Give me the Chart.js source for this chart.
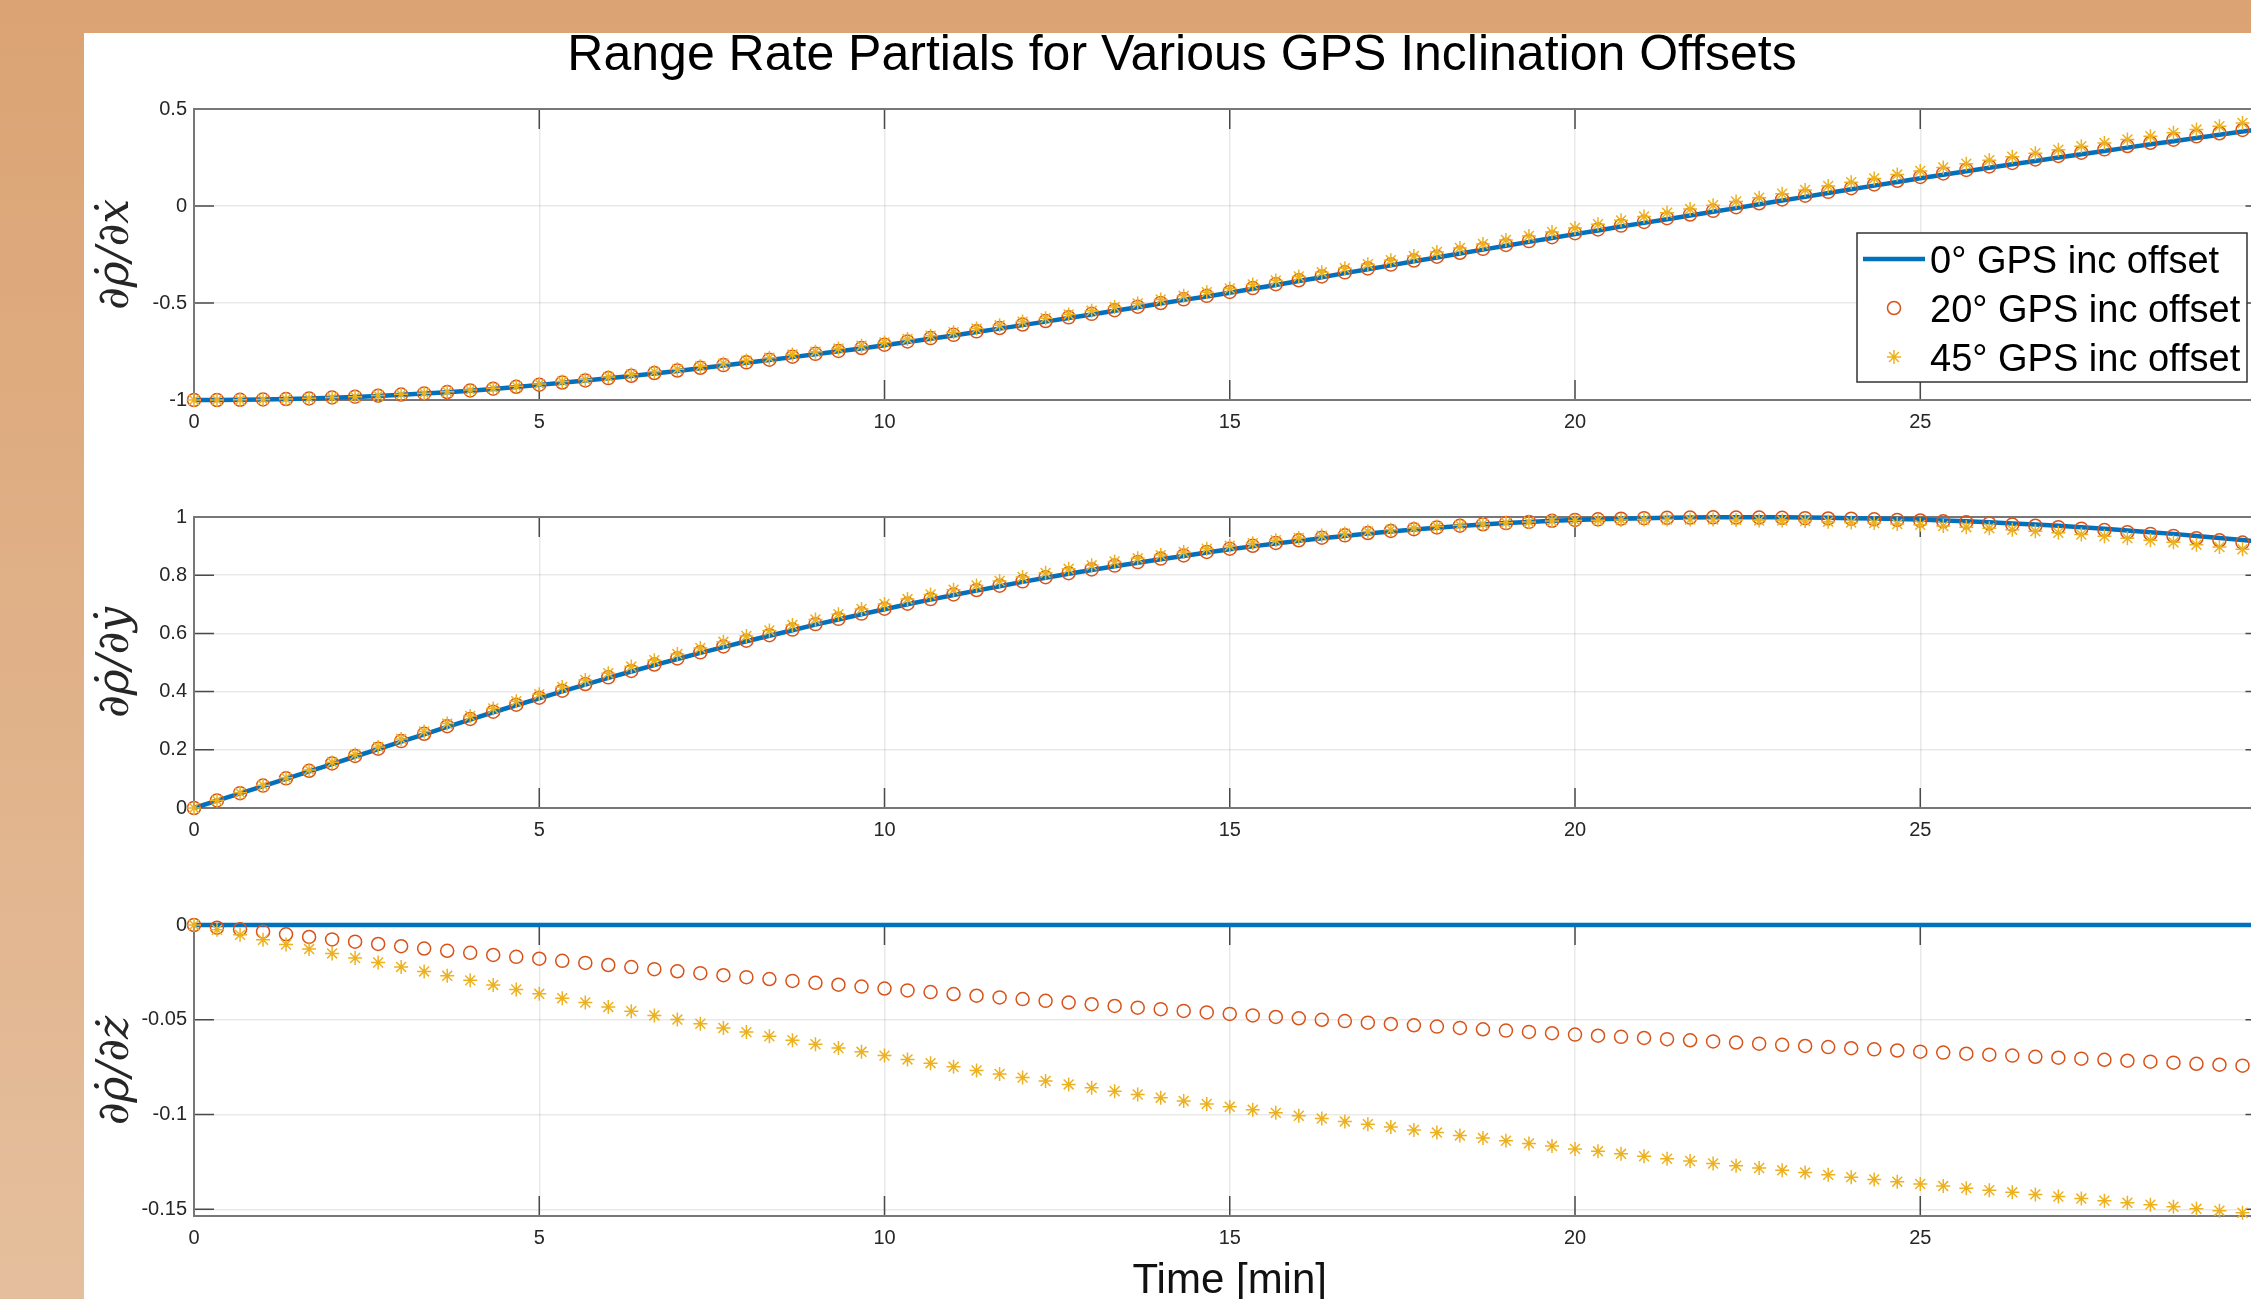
<!DOCTYPE html>
<html>
<head>
<meta charset="utf-8">
<title>Range Rate Partials</title>
<script src="https://cdn.jsdelivr.net/npm/chart.js@4.4.0/dist/chart.umd.min.js"></script>
<style>
    html, body { margin: 0; padding: 0; }
    body {
        width: 2251px;
        height: 1299px;
        overflow: hidden;
        position: relative;
        background: linear-gradient(to bottom, #dba373 0%, #e0b188 50%, #e5bf9d 100%);
    }
    #panel { position: absolute; left: 84px; top: 33px; right: 0; bottom: 0; background: #fff; }
    #title {
        position: absolute; left: 1182px; top: 28px; transform: translateX(-50%);
        font: 50px/50px "Liberation Sans", Arial, sans-serif; color: #000; white-space: nowrap;
    }
    canvas { position: absolute; left: 84px; }
    #c1 { top: 90px; }
    #c2 { top: 498px; }
    #c3 { top: 906px; }
</style>
</head>
<body>
<div id="panel"></div>
<div id="title">Range Rate Partials for Various GPS Inclination Offsets</div>
<canvas id="c1" width="2300" height="360"></canvas>
<canvas id="c2" width="2300" height="360"></canvas>
<canvas id="c3" width="2300" height="401"></canvas>

<script>
// ========================================
// DATA (one sample every 20 s)
// ========================================

const seriesNames = ['0° GPS inc offset', '20° GPS inc offset', '45° GPS inc offset'];

const timeMin = [
    0, 0.333, 0.667, 1, 1.333, 1.667, 2, 2.333, 2.667, 3, 3.333, 3.667, 4, 4.333, 4.667,
    5, 5.333, 5.667, 6, 6.333, 6.667, 7, 7.333, 7.667, 8, 8.333, 8.667, 9, 9.333, 9.667,
    10, 10.333, 10.667, 11, 11.333, 11.667, 12, 12.333, 12.667, 13, 13.333, 13.667, 14, 14.333, 14.667,
    15, 15.333, 15.667, 16, 16.333, 16.667, 17, 17.333, 17.667, 18, 18.333, 18.667, 19, 19.333, 19.667,
    20, 20.333, 20.667, 21, 21.333, 21.667, 22, 22.333, 22.667, 23, 23.333, 23.667, 24, 24.333, 24.667,
    25, 25.333, 25.667, 26, 26.333, 26.667, 27, 27.333, 27.667, 28, 28.333, 28.667, 29, 29.333, 29.667, 30
];

// d(rho dot)/d(x dot)
const dxInc0 = [
    -1.000, -1.000, -0.999, -0.997, -0.995, -0.992, -0.988, -0.984, -0.979, -0.973, -0.967, -0.960, -0.952, -0.943, -0.933,
    -0.922, -0.911, -0.900, -0.888, -0.876, -0.863, -0.850, -0.836, -0.822, -0.808, -0.794, -0.779, -0.764, -0.749, -0.734,
    -0.718, -0.701, -0.684, -0.667, -0.649, -0.632, -0.614, -0.596, -0.577, -0.559, -0.540, -0.522, -0.503, -0.484, -0.466,
    -0.447, -0.427, -0.407, -0.387, -0.367, -0.346, -0.326, -0.306, -0.285, -0.265, -0.245, -0.225, -0.205, -0.185, -0.165,
    -0.145, -0.126, -0.106, -0.087, -0.068, -0.049, -0.030, -0.011, 0.009, 0.028, 0.047, 0.067, 0.086, 0.105, 0.124,
    0.143, 0.161, 0.179, 0.197, 0.215, 0.232, 0.250, 0.267, 0.284, 0.301, 0.318, 0.334, 0.351, 0.367, 0.384, 0.400
];
const dxInc20 = [
    -1.000, -1.000, -0.999, -0.997, -0.995, -0.992, -0.987, -0.983, -0.978, -0.972, -0.966, -0.959, -0.951, -0.942, -0.932,
    -0.921, -0.910, -0.899, -0.887, -0.875, -0.861, -0.848, -0.834, -0.820, -0.806, -0.792, -0.777, -0.762, -0.747, -0.732,
    -0.715, -0.698, -0.681, -0.664, -0.646, -0.629, -0.611, -0.593, -0.574, -0.556, -0.537, -0.519, -0.500, -0.481, -0.463,
    -0.443, -0.423, -0.403, -0.383, -0.363, -0.342, -0.322, -0.302, -0.281, -0.261, -0.241, -0.221, -0.201, -0.181, -0.161,
    -0.140, -0.121, -0.101, -0.082, -0.063, -0.044, -0.025, -0.006, 0.014, 0.034, 0.053, 0.073, 0.092, 0.111, 0.130,
    0.150, 0.168, 0.186, 0.204, 0.222, 0.240, 0.258, 0.275, 0.292, 0.309, 0.326, 0.342, 0.359, 0.375, 0.392, 0.409
];
const dxInc45 = [
    -1.000, -1.000, -0.999, -0.997, -0.995, -0.991, -0.987, -0.983, -0.977, -0.971, -0.965, -0.957, -0.949, -0.939, -0.929,
    -0.917, -0.905, -0.894, -0.881, -0.868, -0.855, -0.841, -0.826, -0.812, -0.797, -0.782, -0.766, -0.751, -0.735, -0.720,
    -0.703, -0.686, -0.669, -0.651, -0.632, -0.615, -0.596, -0.578, -0.559, -0.540, -0.521, -0.502, -0.482, -0.463, -0.444,
    -0.425, -0.404, -0.384, -0.363, -0.342, -0.321, -0.300, -0.279, -0.258, -0.237, -0.216, -0.196, -0.175, -0.154, -0.134,
    -0.113, -0.094, -0.074, -0.054, -0.035, -0.016, 0.004, 0.023, 0.043, 0.063, 0.083, 0.103, 0.123, 0.142, 0.162,
    0.181, 0.199, 0.218, 0.236, 0.254, 0.272, 0.290, 0.308, 0.325, 0.343, 0.360, 0.377, 0.394, 0.411, 0.428, 0.444
];

// d(rho dot)/d(y dot)
const dyInc0 = [
    0.000, 0.025, 0.050, 0.075, 0.100, 0.126, 0.151, 0.177, 0.202, 0.228, 0.253, 0.279, 0.304, 0.329, 0.353,
    0.377, 0.401, 0.424, 0.447, 0.469, 0.491, 0.512, 0.533, 0.553, 0.573, 0.592, 0.611, 0.630, 0.648, 0.666,
    0.683, 0.700, 0.716, 0.732, 0.747, 0.762, 0.777, 0.791, 0.805, 0.818, 0.831, 0.843, 0.855, 0.866, 0.878,
    0.889, 0.899, 0.909, 0.918, 0.927, 0.935, 0.943, 0.950, 0.957, 0.963, 0.969, 0.974, 0.979, 0.983, 0.987,
    0.990, 0.992, 0.994, 0.996, 0.997, 0.998, 0.999, 0.999, 0.999, 0.999, 0.998, 0.997, 0.996, 0.995, 0.993,
    0.991, 0.988, 0.985, 0.982, 0.978, 0.974, 0.970, 0.965, 0.960, 0.954, 0.948, 0.942, 0.935, 0.928, 0.921, 0.913
];
const dyInc20 = [
    0.000, 0.026, 0.051, 0.077, 0.102, 0.128, 0.153, 0.179, 0.204, 0.230, 0.255, 0.281, 0.306, 0.331, 0.355,
    0.379, 0.403, 0.426, 0.449, 0.471, 0.493, 0.514, 0.535, 0.555, 0.575, 0.594, 0.613, 0.632, 0.650, 0.668,
    0.685, 0.702, 0.718, 0.734, 0.749, 0.764, 0.779, 0.793, 0.807, 0.820, 0.833, 0.845, 0.857, 0.868, 0.880,
    0.891, 0.901, 0.911, 0.920, 0.929, 0.937, 0.945, 0.952, 0.958, 0.964, 0.970, 0.975, 0.979, 0.983, 0.987,
    0.990, 0.992, 0.994, 0.996, 0.997, 0.998, 0.999, 0.998, 0.998, 0.997, 0.996, 0.995, 0.994, 0.992, 0.990,
    0.988, 0.985, 0.982, 0.978, 0.974, 0.970, 0.965, 0.960, 0.955, 0.948, 0.942, 0.935, 0.927, 0.920, 0.912, 0.904
];
const dyInc45 = [
    0.000, 0.026, 0.052, 0.078, 0.104, 0.131, 0.157, 0.184, 0.210, 0.237, 0.263, 0.290, 0.316, 0.342, 0.367,
    0.391, 0.416, 0.440, 0.463, 0.486, 0.508, 0.529, 0.550, 0.571, 0.591, 0.610, 0.629, 0.648, 0.666, 0.684,
    0.701, 0.718, 0.734, 0.750, 0.765, 0.780, 0.794, 0.808, 0.822, 0.834, 0.847, 0.858, 0.869, 0.880, 0.891,
    0.901, 0.910, 0.920, 0.928, 0.936, 0.943, 0.950, 0.956, 0.962, 0.967, 0.972, 0.976, 0.980, 0.983, 0.986,
    0.988, 0.989, 0.990, 0.991, 0.991, 0.991, 0.991, 0.990, 0.988, 0.988, 0.986, 0.984, 0.981, 0.979, 0.976,
    0.973, 0.969, 0.965, 0.961, 0.956, 0.951, 0.946, 0.940, 0.934, 0.927, 0.920, 0.913, 0.905, 0.897, 0.889, 0.880
];

// d(rho dot)/d(z dot)
const dzInc0 = [
    0, 0, 0, 0, 0, 0, 0, 0, 0, 0, 0, 0, 0, 0, 0,
    0, 0, 0, 0, 0, 0, 0, 0, 0, 0, 0, 0, 0, 0, 0,
    0, 0, 0, 0, 0, 0, 0, 0, 0, 0, 0, 0, 0, 0, 0,
    0, 0, 0, 0, 0, 0, 0, 0, 0, 0, 0, 0, 0, 0, 0,
    0, 0, 0, 0, 0, 0, 0, 0, 0, 0, 0, 0, 0, 0, 0,
    0, 0, 0, 0, 0, 0, 0, 0, 0, 0, 0, 0, 0, 0, 0, 0
];
const dzInc20 = [
    0, -0.0014, -0.0022, -0.0035, -0.0049, -0.0063, -0.0076, -0.0088, -0.0100, -0.0112, -0.0124, -0.0136, -0.0147, -0.0158, -0.0168,
    -0.0178, -0.0189, -0.0200, -0.0211, -0.0222, -0.0233, -0.0244, -0.0254, -0.0265, -0.0275, -0.0285, -0.0295, -0.0305, -0.0315, -0.0325,
    -0.0335, -0.0345, -0.0354, -0.0364, -0.0373, -0.0382, -0.0391, -0.0400, -0.0409, -0.0418, -0.0427, -0.0436, -0.0444, -0.0453, -0.0461,
    -0.0469, -0.0477, -0.0485, -0.0492, -0.0500, -0.0507, -0.0515, -0.0522, -0.0529, -0.0536, -0.0543, -0.0550, -0.0557, -0.0564, -0.0571,
    -0.0578, -0.0584, -0.0590, -0.0596, -0.0602, -0.0608, -0.0614, -0.0620, -0.0626, -0.0632, -0.0638, -0.0644, -0.0650, -0.0656, -0.0662,
    -0.0668, -0.0673, -0.0679, -0.0684, -0.0689, -0.0695, -0.0700, -0.0705, -0.0711, -0.0716, -0.0721, -0.0726, -0.0732, -0.0737, -0.0742, -0.0747
];
const dzInc45 = [
    0, -0.0025, -0.0052, -0.0078, -0.0103, -0.0127, -0.0150, -0.0174, -0.0198, -0.0221, -0.0245, -0.0268, -0.0292, -0.0316, -0.0340,
    -0.0363, -0.0386, -0.0409, -0.0432, -0.0455, -0.0477, -0.0499, -0.0521, -0.0543, -0.0565, -0.0587, -0.0608, -0.0629, -0.0649, -0.0669,
    -0.0689, -0.0709, -0.0729, -0.0748, -0.0767, -0.0786, -0.0805, -0.0823, -0.0841, -0.0859, -0.0877, -0.0894, -0.0911, -0.0928, -0.0944,
    -0.0959, -0.0975, -0.0991, -0.1006, -0.1021, -0.1036, -0.1051, -0.1066, -0.1081, -0.1095, -0.1110, -0.1124, -0.1138, -0.1152, -0.1166,
    -0.1181, -0.1194, -0.1207, -0.1220, -0.1233, -0.1245, -0.1258, -0.1270, -0.1282, -0.1294, -0.1306, -0.1318, -0.1330, -0.1342, -0.1354,
    -0.1366, -0.1377, -0.1388, -0.1399, -0.1410, -0.1421, -0.1432, -0.1443, -0.1454, -0.1465, -0.1475, -0.1486, -0.1497, -0.1507, -0.1518, -0.1528
];

// tick labels
const xTicks = [0, 5, 10, 15, 20, 25, 30];
const dxTicks = [-1, -0.5, 0, 0.5];
const dyTicks = [0, 0.2, 0.4, 0.6, 0.8, 1];
const dzTicks = [-0.15, -0.1, -0.05, 0];

// ========================================
// STYLE
// ========================================

const BLUE = '#0072bd';
const ORANGE = '#d95319';
const YELLOW = '#edb120';
const TEXT = '#262626';
const TICK_LEN = 20;

Chart.defaults.font.family = '"Liberation Sans", Arial, sans-serif';
Chart.defaults.color = TEXT;

function toPoints(arr) {
    return timeMin.map((t, i) => ({ x: t, y: arr[i] }));
}

function makeDatasets(a0, a20, a45) {
    return [
        {
            label: seriesNames[0], data: toPoints(a0), order: 3,
            borderColor: BLUE, borderWidth: 4.5, pointRadius: 0, showLine: true, clip: false
        },
        {
            label: seriesNames[1], data: toPoints(a20), order: 2, showLine: false,
            pointStyle: 'circle', pointRadius: 6.5, pointBorderWidth: 1.5,
            pointBorderColor: ORANGE, pointBackgroundColor: 'rgba(0,0,0,0)', clip: false
        },
        {
            label: seriesNames[2], data: toPoints(a45), order: 1, showLine: false,
            pointStyle: 'star', pointRadius: 7, pointBorderWidth: 1.5,
            pointBorderColor: YELLOW, pointBackgroundColor: YELLOW, clip: false
        }
    ];
}

// MATLAB-like box with inward ticks
const axisBox = {
    id: 'axisBox',
    beforeDatasetsDraw(chart) {
        const { ctx, chartArea: a, scales: { x, y } } = chart;
        ctx.save();
        ctx.strokeStyle = '#4a4a4a';
        ctx.lineWidth = 1.5;
        ctx.beginPath();
        x.ticks.forEach(t => {
            const px = x.getPixelForValue(t.value);
            ctx.moveTo(px, a.bottom); ctx.lineTo(px, a.bottom - TICK_LEN);
            ctx.moveTo(px, a.top); ctx.lineTo(px, a.top + TICK_LEN);
        });
        y.ticks.forEach(t => {
            const py = y.getPixelForValue(t.value);
            ctx.moveTo(a.left, py); ctx.lineTo(a.left + TICK_LEN, py);
            ctx.moveTo(a.right, py); ctx.lineTo(a.right - TICK_LEN, py);
        });
        ctx.stroke();
        ctx.strokeStyle = '#777';
        ctx.lineWidth = 2;
        ctx.strokeRect(a.left, a.top, a.right - a.left, a.bottom - a.top);
        ctx.restore();
    }
};

// legend box drawn inside the first axes
const boxLegend = {
    id: 'boxLegend',
    afterDraw(chart) {
        const ctx = chart.ctx;
        const bx = 1773, by = 143, bw = 390, bh = 149;
        const rows = [169, 218, 267];
        ctx.save();
        ctx.fillStyle = '#fff';
        ctx.fillRect(bx, by, bw, bh);
        ctx.strokeStyle = '#333';
        ctx.lineWidth = 1.5;
        ctx.strokeRect(bx, by, bw, bh);

        // line sample
        ctx.strokeStyle = BLUE;
        ctx.lineWidth = 4.5;
        ctx.beginPath();
        ctx.moveTo(1779, rows[0]); ctx.lineTo(1841, rows[0]);
        ctx.stroke();

        // circle sample
        ctx.strokeStyle = ORANGE;
        ctx.lineWidth = 1.5;
        ctx.beginPath();
        ctx.arc(1810, rows[1], 6.5, 0, Math.PI * 2);
        ctx.stroke();

        // star sample
        ctx.strokeStyle = YELLOW;
        ctx.beginPath();
        const r = 7, d = r * Math.SQRT1_2;
        ctx.moveTo(1810, rows[2] - r); ctx.lineTo(1810, rows[2] + r);
        ctx.moveTo(1810 - r, rows[2]); ctx.lineTo(1810 + r, rows[2]);
        ctx.moveTo(1810 - d, rows[2] - d); ctx.lineTo(1810 + d, rows[2] + d);
        ctx.moveTo(1810 - d, rows[2] + d); ctx.lineTo(1810 + d, rows[2] - d);
        ctx.stroke();

        ctx.fillStyle = '#000';
        ctx.font = '38px "Liberation Sans", Arial, sans-serif';
        ctx.textBaseline = 'middle';
        ctx.textAlign = 'left';
        seriesNames.forEach((name, i) => ctx.fillText(name, 1846, rows[i] + 4));
        ctx.restore();
    }
};

function makeChart(id, a0, a20, a45, yTicks, yMin, yMax, yLabel, xLabel) {
    const ctx = document.getElementById(id).getContext('2d');
    return new Chart(ctx, {
        type: 'scatter',
        data: { datasets: makeDatasets(a0, a20, a45) },
        options: {
            responsive: false,
            animation: false,
            devicePixelRatio: 1,
            layout: { padding: { top: 16, left: 0, right: 118.5, bottom: 0 } },
            plugins: { legend: { display: false }, tooltip: { enabled: false } },
            scales: {
                x: {
                    type: 'linear', min: 0, max: 30,
                    afterBuildTicks: s => { s.ticks = xTicks.map(v => ({ value: v })); },
                    afterFit: s => { s.height = xLabel ? 91 : 50; },
                    grid: { color: 'rgba(0,0,0,0.085)', lineWidth: 1.5, drawTicks: false },
                    border: { display: false },
                    ticks: { padding: 10, maxRotation: 0, autoSkip: false, font: { size: 20 }, color: TEXT,
                        callback: v => String(v) },
                    title: {
                        display: !!xLabel, text: xLabel || '', color: '#111',
                        font: { size: 42 }, padding: { top: 0, bottom: 0 }
                    }
                },
                y: {
                    type: 'linear', min: yMin, max: yMax,
                    afterBuildTicks: s => { s.ticks = yTicks.map(v => ({ value: v })); },
                    afterFit: s => { s.width = 110; },
                    grid: { color: 'rgba(0,0,0,0.085)', lineWidth: 1.5, drawTicks: false },
                    border: { display: false },
                    ticks: { padding: 7, font: { size: 20 }, color: TEXT, callback: v => String(v) },
                    title: {
                        display: true, text: yLabel, color: TEXT,
                        font: { family: '"DejaVu Serif", serif', style: 'italic', size: 44 },
                        padding: { top: 6, bottom: 0 }
                    }
                }
            }
        },
        plugins: id === 'c1' ? [axisBox, boxLegend] : [axisBox]
    });
}

makeChart('c1', dxInc0, dxInc20, dxInc45, dxTicks, -1, 0.5, '\u2202\u03c1\u0307/\u2202\u1e8b');
makeChart('c2', dyInc0, dyInc20, dyInc45, dyTicks, 0, 1, '\u2202\u03c1\u0307/\u2202\u1e8f');
makeChart('c3', dzInc0, dzInc20, dzInc45, dzTicks, -0.1535, 0, '\u2202\u03c1\u0307/\u2202\u017c', 'Time [min]');
</script>
</body>
</html>
